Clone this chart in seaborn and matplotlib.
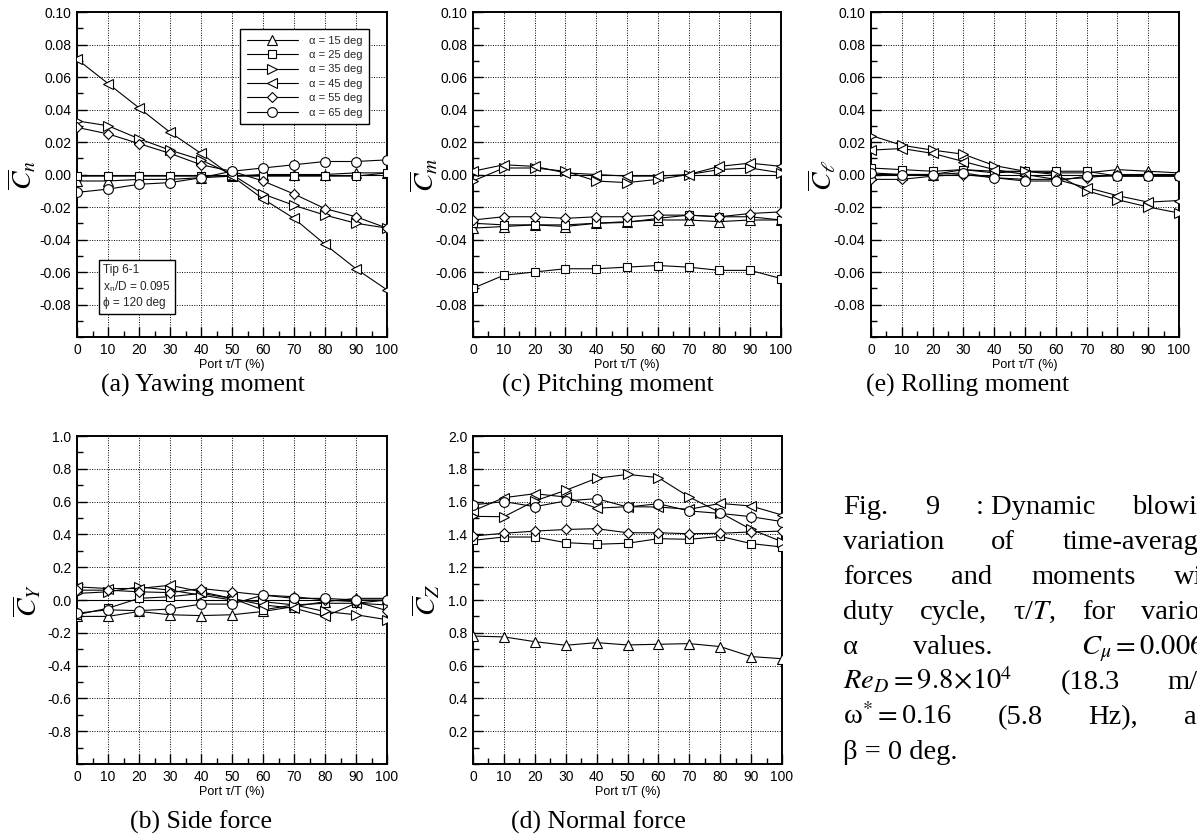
import numpy as np
import pandas as pd
import matplotlib
matplotlib.use("Agg")
import matplotlib.pyplot as plt
import seaborn as sns
from matplotlib.ticker import MultipleLocator

sns.set_theme(style="white")
plt.rcParams["font.family"] = ["Liberation Sans", "DejaVu Sans"]
plt.rcParams["mathtext.fontset"] = "stix"
plt.rcParams["axes.unicode_minus"] = False

# ---------------- data ----------------
port = [0, 10, 20, 30, 40, 50, 60, 70, 80, 90, 100]
alpha_labels = ["α = 15 deg", "α = 25 deg", "α = 35 deg",
                "α = 45 deg", "α = 55 deg", "α = 65 deg"]

# (a) yawing moment
cn_15 = [-0.004, -0.004, -0.003, -0.003, -0.002, -0.001, 0.000, 0.000, 0.000, 0.001, 0.001]
cn_25 = [-0.001, -0.001, -0.001, -0.001, -0.001, -0.001, -0.001, -0.001, -0.001, -0.001, 0.001]
cn_35 = [0.033, 0.030, 0.022, 0.015, 0.009, 0.000, -0.012, -0.019, -0.025, -0.030, -0.033]
cn_45 = [0.071, 0.056, 0.041, 0.026, 0.013, -0.001, -0.015, -0.027, -0.043, -0.058, -0.071]
cn_55 = [0.029, 0.025, 0.019, 0.013, 0.006, 0.002, -0.004, -0.012, -0.021, -0.026, -0.033]
cn_65 = [-0.011, -0.009, -0.006, -0.005, -0.002, 0.002, 0.004, 0.006, 0.008, 0.008, 0.009]

# (c) pitching moment
cm_15 = [-0.033, -0.032, -0.031, -0.032, -0.030, -0.029, -0.028, -0.028, -0.029, -0.028, -0.028]
cm_25 = [-0.030, -0.031, -0.031, -0.031, -0.030, -0.0295, -0.027, -0.025, -0.026, -0.026, -0.028]
cm_35 = [-0.004, 0.004, 0.004, 0.002, -0.004, -0.005, -0.003, 0.000, 0.003, 0.004, 0.001]
cm_45 = [0.002, 0.006, 0.005, 0.001, 0.000, -0.001, -0.001, 0.000, 0.005, 0.007, 0.005]
cm_55 = [-0.028, -0.026, -0.026, -0.027, -0.026, -0.026, -0.025, -0.025, -0.026, -0.024, -0.023]
cm_65 = [-0.070, -0.062, -0.060, -0.058, -0.058, -0.057, -0.056, -0.057, -0.059, -0.059, -0.064]

# (e) rolling moment
cl_15 = [0.000, 0.000, 0.000, 0.003, 0.001, 0.002, 0.001, 0.001, 0.003, 0.002, 0.001]
cl_25 = [0.004, 0.003, 0.002, 0.003, 0.002, 0.002, 0.002, 0.002, -0.001, -0.001, -0.001]
cl_35 = [0.024, 0.018, 0.015, 0.0125, 0.0055, 0.002, 0.000, -0.010, -0.0155, -0.020, -0.0237]
cl_45 = [0.015, 0.016, 0.013, 0.008, 0.003, 0.000, -0.003, -0.008, -0.013, -0.017, -0.016]
cl_55 = [-0.003, -0.003, -0.001, 0.000, -0.002, -0.003, -0.003, -0.002, 0.000, 0.000, 0.000]
cl_65 = [0.001, 0.000, 0.000, 0.001, -0.002, -0.004, -0.004, -0.001, -0.001, -0.001, -0.001]

# (b) side force
cy_15 = [-0.10, -0.10, -0.07, -0.09, -0.095, -0.09, -0.07, -0.04, -0.01, 0.01, 0.01]
cy_25 = [-0.09, -0.05, 0.01, 0.02, 0.04, 0.01, -0.06, -0.03, -0.02, -0.02, -0.03]
cy_35 = [0.04, 0.05, 0.08, 0.06, 0.03, 0.00, -0.01, -0.03, -0.07, -0.09, -0.12]
cy_45 = [0.08, 0.07, 0.07, 0.09, 0.05, 0.01, -0.03, -0.05, -0.10, -0.02, 0.00]
cy_55 = [0.06, 0.06, 0.05, 0.045, 0.07, 0.05, 0.03, 0.02, 0.00, -0.01, -0.065]
cy_65 = [-0.08, -0.06, -0.065, -0.055, -0.025, -0.025, 0.03, 0.01, 0.01, 0.00, 0.00]

# (d) normal force
cz_15 = [0.78, 0.775, 0.746, 0.724, 0.74, 0.726, 0.73, 0.734, 0.716, 0.655, 0.642]
cz_25 = [1.364, 1.384, 1.384, 1.35, 1.34, 1.346, 1.374, 1.37, 1.388, 1.344, 1.323]
cz_35 = [1.51, 1.508, 1.604, 1.669, 1.742, 1.766, 1.746, 1.628, 1.533, 1.43, 1.356]
cz_45 = [1.543, 1.624, 1.648, 1.628, 1.56, 1.569, 1.567, 1.553, 1.589, 1.573, 1.518]
cz_55 = [1.39, 1.407, 1.42, 1.43, 1.435, 1.41, 1.41, 1.404, 1.407, 1.415, 1.42]
cz_65 = [1.58, 1.60, 1.569, 1.604, 1.618, 1.567, 1.587, 1.543, 1.528, 1.508, 1.478]

markers = ["^", "s", ">", "<", "D", "o"]
markers_c = ["^", "s", ">", "<", "D", "s"]
msize = {"^": 7, "s": 5.5, ">": 7, "<": 7, "D": 5, "o": 7}

# ---------------- figure ----------------
W, H = 1197, 838
fig = plt.figure(figsize=(W / 100, H / 100), dpi=100)


def axes_px(left, top, right, bottom):
    return fig.add_axes([left / W, 1 - bottom / H, (right - left) / W, (bottom - top) / H])


def panel(ax, series, mk, ylim, ymajor, ylabel, yfmt, lab_x):
    ax.axhline(0, color="black", lw=0.8, zorder=2)
    for lab, vals, m in zip(alpha_labels, series, mk):
        df = pd.DataFrame({"port": port, "val": vals})
        sns.lineplot(data=df, x="port", y="val", ax=ax, color="black", lw=0.8,
                     marker=m, ms=msize[m], mfc="white", mec="black", mew=0.8,
                     label=lab, legend=False, zorder=3, sort=False)
    ax.set_xlim(0, 100)
    ax.set_ylim(*ylim)
    ax.set_xticks(port, labels=[str(p) for p in port])
    ax.xaxis.set_minor_locator(MultipleLocator(5))
    ax.set_yticks(ymajor, labels=[yfmt.format(v) for v in ymajor])
    ax.yaxis.set_minor_locator(MultipleLocator((ymajor[1] - ymajor[0]) / 2))
    ax.grid(which="major", ls=(0, (1, 1.5)), color="black", lw=0.7)
    ax.set_axisbelow(True)
    for s in ax.spines.values():
        s.set_linewidth(1.4)
        s.set_color("black")
    ax.tick_params(which="both", direction="in", top=False, right=False,
                   left=True, bottom=True, color="black", labelsize=10,
                   labelcolor="black")
    ax.tick_params(which="major", length=7, width=1.0, pad=4)
    ax.tick_params(which="minor", length=4, width=1.0)
    ax.set_xlabel("Port τ/T (%)", fontsize=9, color="black", va="center")
    ax.xaxis.set_label_coords(0.5, -28 / 325)
    ax.set_ylabel(ylabel, fontsize=20, color="black", va="center", rotation=90)
    ax.yaxis.set_label_coords(lab_x, 0.5)


top_major = [-0.08, -0.06, -0.04, -0.02, 0.00, 0.02, 0.04, 0.06, 0.08, 0.10]
cy_major = [-0.8, -0.6, -0.4, -0.2, 0.0, 0.2, 0.4, 0.6, 0.8, 1.0]
cz_major = [0.2, 0.4, 0.6, 0.8, 1.0, 1.2, 1.4, 1.6, 1.8, 2.0]

ax_a = axes_px(77, 12, 387, 337)
panel(ax_a, [cn_15, cn_25, cn_35, cn_45, cn_55, cn_65], markers, (-0.10, 0.10),
      top_major, r"$\overline{C}_n$", "{:.2f}", -0.178)
ax_c = axes_px(473, 12, 781, 337)
panel(ax_c, [cm_15, cm_25, cm_35, cm_45, cm_55, cm_65], markers_c, (-0.10, 0.10),
      top_major, r"$\overline{C}_m$", "{:.2f}", -0.16)
ax_e = axes_px(871, 12, 1179, 337)
panel(ax_e, [cl_15, cl_25, cl_35, cl_45, cl_55, cl_65], markers, (-0.10, 0.10),
      top_major, r"$\overline{C}_\ell$", "{:.2f}", -0.16)
ax_b = axes_px(77, 436, 387, 764)
panel(ax_b, [cy_15, cy_25, cy_35, cy_45, cy_55, cy_65], markers, (-1.0, 1.0),
      cy_major, r"$\overline{C}_Y$", "{:.1f}", -0.16)
ax_d = axes_px(473, 436, 782, 764)
panel(ax_d, [cz_15, cz_25, cz_35, cz_45, cz_55, cz_65], markers, (0.0, 2.0),
      cz_major, r"$\overline{C}_Z$", "{:.1f}", -0.15)

# legend in (a)
ax_a.legend(loc="upper left", bbox_to_anchor=(0.526, 0.948), fontsize=8,
            handlelength=4.6, frameon=True, fancybox=False, edgecolor="black",
            framealpha=1, borderpad=0.6, labelspacing=0.4, handletextpad=1.0,
            borderaxespad=0).get_frame().set_linewidth(1.0)

# tip box in (a)
ax_a.text(0.085, 0.085, "Tip 6-1\nx$_{\\mathregular{n}}$/D = 0.095\nϕ = 120 deg",
          transform=ax_a.transAxes, fontsize=8.5, va="bottom", ha="left",
          family=["Liberation Sans", "DejaVu Sans"], linespacing=1.35, zorder=5,
          bbox=dict(boxstyle="square,pad=0.35", fc="white", ec="black", lw=1.0))

# sub-captions
serif = ["Liberation Serif", "DejaVu Serif"]
for txt, cx, cy in [("(a) Yawing moment", 203, 385), ("(c) Pitching moment", 608, 385),
                    ("(e) Rolling moment", 968, 385), ("(b) Side force", 201, 822),
                    ("(d) Normal force", 598, 822)]:
    fig.text(cx / W, 1 - cy / H, txt, ha="center", va="center", fontsize=18.5,
             family=serif, color="black")

# figure caption: justified block, running past the right edge
cap_left, cap_right = 843, 1225
cap_lines = [
    (514, ["Fig.", "9", ": Dynamic", "blowing"], True),
    (549, ["variation", "of", "time-averaged"], True),
    (584, ["forces", "and", "moments", "with"], True),
    (619, ["duty", "cycle,", "τ/$T$,", "for", "various"], True),
    (654, ["α", "values.", r"$C_{\mu} = 0.0068$,"], True),
    (689, [r"$Re_D = 9.8\!\times\!10^4$", "(18.3", "m/s),"], True),
    (724, [r"ω$^{*} = $0.16", "(5.8", "Hz),", "and"], True),
    (759, ["β = 0 deg."], False),
]
renderer = fig.canvas.get_renderer()
for base, words, justify in cap_lines:
    texts = [fig.text(0, 1 - base / H, w, ha="left", va="baseline", fontsize=20.5,
                      family=serif, color="black") for w in words]
    widths = [t.get_window_extent(renderer).width for t in texts]
    weights = [1.6 if w.endswith(".") and w != "Fig." else 1.0 for w in words[:-1]]
    if justify and len(words) > 1:
        unit = (cap_right - cap_left - sum(widths)) / sum(weights)
    else:
        unit = 6
        weights = [1.0] * len(words)
    x = cap_left
    for i, (t, wd) in enumerate(zip(texts, widths)):
        t.set_x(x / W)
        if i < len(weights):
            x += wd + unit * weights[i]

fig.savefig("out.png", dpi=100)
